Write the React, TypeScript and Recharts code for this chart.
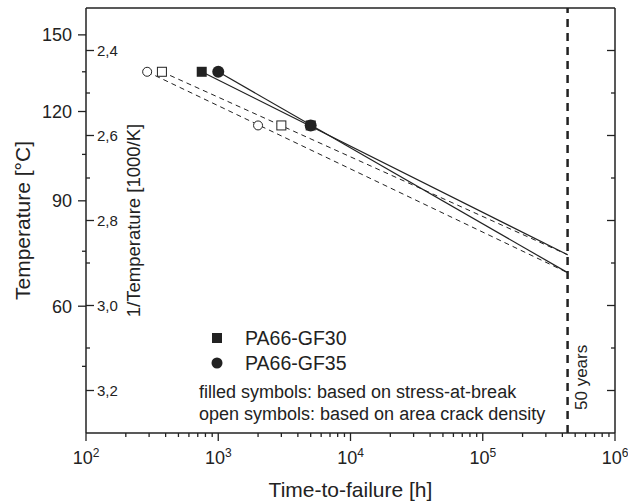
import {
    ComposedChart,
    Line,
    Scatter,
    XAxis,
    YAxis,
    ReferenceLine,
    Legend,
} from "recharts";

const ink = "#222";
const font = "'Liberation Sans', Arial, sans-serif";

// 50 years in hours
const FIFTY_YEARS = 438000;

// test temperatures [°C]
const testTemps = [135, 115];

// time-to-failure [h] at the two test temperatures
const gf30FilledTimes = [750, 5000];
const gf35FilledTimes = [1000, 5000];
const gf30OpenTimes = [375, 3000];
const gf35OpenTimes = [290, 2000];

// extrapolated temperature [°C] at 50 years
const gf30End = 74;
const gf35End = 69;

// axis ticks
const xMajor = [1e2, 1e3, 1e4, 1e5, 1e6];
const xMinor = [1e2, 1e3, 1e4, 1e5].flatMap((d) => [2, 3, 4, 5, 6, 7, 8, 9].map((k) => k * d));
const xTicks = [...xMajor, ...xMinor].sort((a, b) => a - b);
const celsiusTicks = [150, 135, 120, 105, 90, 75, 60, 45];
const invTicks = [2.4, 2.5, 2.6, 2.7, 2.8, 2.9, 3.0, 3.1, 3.2];

const inv = (c: number) => 1000 / (c + 273.15);

const points = (times: number[]) => times.map((t, i) => ({ t, v: inv(testTemps[i]) }));
const fitLine = (times: number[], end: number) => [
    { t: times[0], v: inv(testTemps[0]) },
    { t: FIFTY_YEARS, v: inv(end) },
];

const yDomain = [2.3, 3.3];

function BottomTick(props: any) {
    const { x, y, payload } = props;
    const exp = Math.log10(payload.value);
    const major = Math.abs(exp - Math.round(exp)) < 1e-6;
    return (
        <g>
            <line x1={x} y1={y} x2={x} y2={y + (major ? 8 : 4)} stroke={ink} strokeWidth={1.3} />
            {major && (
                <text x={x} y={y + 31} textAnchor="middle" fontSize={18} fill={ink}>
                    10<tspan dy={-7} fontSize={12}>{Math.round(exp)}</tspan>
                </text>
            )}
        </g>
    );
}

function TopTick(props: any) {
    const { x, y, payload } = props;
    const exp = Math.log10(payload.value);
    const major = Math.abs(exp - Math.round(exp)) < 1e-6;
    return <line x1={x} y1={y} x2={x} y2={y + (major ? 8 : 4)} stroke={ink} strokeWidth={1.3} />;
}

function CelsiusTick(props: any) {
    const { x, y, payload } = props;
    const c = Math.round(1000 / payload.value - 273.15);
    const major = c % 30 === 0;
    return (
        <g>
            <line x1={x - (major ? 8 : 4)} y1={y} x2={x} y2={y} stroke={ink} strokeWidth={1.3} />
            {major && (
                <text x={x - 14} y={y} dy="0.36em" textAnchor="end" fontSize={18} fill={ink}>
                    {c}
                </text>
            )}
        </g>
    );
}

function InvTick(props: any) {
    const { x, y, payload } = props;
    const major = Math.round(payload.value * 10) % 2 === 0;
    return (
        <g>
            <line x1={x} y1={y} x2={x + (major ? 8 : 4)} y2={y} stroke={ink} strokeWidth={1.3} />
            {major && (
                <text x={x + 11} y={y} dy="0.36em" textAnchor="start" fontSize={15} fill={ink}>
                    {payload.value.toFixed(1).replace(".", ",")}
                </text>
            )}
        </g>
    );
}

function RightTick(props: any) {
    const { x, y, payload } = props;
    const major = Math.round(payload.value * 10) % 2 === 0;
    return <line x1={x - (major ? 8 : 4)} y1={y} x2={x} y2={y} stroke={ink} strokeWidth={1.3} />;
}

const filledSquare = (p: any) => <rect x={p.cx - 5} y={p.cy - 5} width={10} height={10} fill={ink} />;
const filledCircle = (p: any) => <circle cx={p.cx} cy={p.cy} r={6} fill={ink} />;
const openSquare = (p: any) => (
    <rect x={p.cx - 4.5} y={p.cy - 4.5} width={9} height={9} fill="#fff" stroke={ink} strokeWidth={1} />
);
const openCircle = (p: any) => <circle cx={p.cx} cy={p.cy} r={4.5} fill="#fff" stroke={ink} strokeWidth={1} />;

function Notes() {
    return (
        <svg width={380} height={110} style={{ fontFamily: font }}>
            <rect x={22} y={13} width={10} height={10} fill={ink} />
            <circle cx={27} cy={43} r={5.5} fill={ink} />
            <text x={55} y={25} fontSize={19.5} fill={ink}>PA66-GF30</text>
            <text x={55} y={50} fontSize={19.5} fill={ink}>PA66-GF35</text>
            <text x={9} y={78} fontSize={18} fill={ink}>filled symbols: based on stress-at-break</text>
            <text x={9} y={100} fontSize={18} fill={ink}>open symbols: based on area crack density</text>
        </svg>
    );
}

function fiftyLabel(props: any) {
    const { x, y, height } = props.viewBox;
    const tx = x + 19;
    const ty = y + height - 23;
    return (
        <text x={tx} y={ty} transform={`rotate(-90 ${tx} ${ty})`} fontSize={17} fill={ink}>
            50 years
        </text>
    );
}

export default function App() {
    return (
        <div style={{ position: "absolute", left: 0, top: 0, width: 628, height: 504, fontFamily: font, background: "#fff" }}>
            <ComposedChart width={628} height={504} margin={{ top: 7, right: 12, bottom: 70, left: 85 }}>
                <XAxis
                    xAxisId="x"
                    dataKey="t"
                    type="number"
                    scale="log"
                    domain={[100, 1e6]}
                    allowDataOverflow
                    ticks={xTicks}
                    interval={0}
                    height={1}
                    tickSize={0}
                    tickMargin={0}
                    tickLine={false}
                    axisLine={{ stroke: ink, strokeWidth: 1.5 }}
                    tick={<BottomTick />}
                    label={{ value: "Time-to-failure [h]", position: "bottom", offset: 48, style: { fontSize: 21, fill: ink } }}
                />
                <XAxis
                    xAxisId="top"
                    orientation="top"
                    type="number"
                    scale="log"
                    domain={[100, 1e6]}
                    allowDataOverflow
                    ticks={xTicks}
                    interval={0}
                    height={1}
                    tickSize={0}
                    tickMargin={0}
                    tickLine={false}
                    axisLine={{ stroke: ink, strokeWidth: 1.5 }}
                    tick={<TopTick />}
                />
                <YAxis
                    yAxisId="c"
                    type="number"
                    domain={yDomain}
                    reversed
                    allowDataOverflow
                    ticks={celsiusTicks.map(inv)}
                    interval={0}
                    width={1}
                    tickSize={0}
                    tickMargin={0}
                    tickLine={false}
                    axisLine={{ stroke: ink, strokeWidth: 1.5 }}
                    tick={<CelsiusTick />}
                    label={{
                        value: "Temperature [°C]",
                        angle: -90,
                        position: "left",
                        offset: 62,
                        style: { textAnchor: "middle", fontSize: 21, fill: ink },
                    }}
                />
                <YAxis
                    yAxisId="inv"
                    dataKey="v"
                    type="number"
                    domain={yDomain}
                    reversed
                    mirror
                    allowDataOverflow
                    ticks={invTicks}
                    interval={0}
                    width={1}
                    tickSize={0}
                    tickMargin={0}
                    tickLine={false}
                    axisLine={false}
                    tick={<InvTick />}
                    label={{
                        value: "1/Temperature [1000/K]",
                        angle: -90,
                        position: "insideLeft",
                        offset: 47,
                        style: { textAnchor: "middle", fontSize: 18.5, fill: ink },
                    }}
                />
                <YAxis
                    yAxisId="r"
                    orientation="right"
                    type="number"
                    domain={yDomain}
                    reversed
                    allowDataOverflow
                    ticks={invTicks}
                    interval={0}
                    width={1}
                    tickSize={0}
                    tickMargin={0}
                    tickLine={false}
                    axisLine={{ stroke: ink, strokeWidth: 1.5 }}
                    tick={<RightTick />}
                />

                <Line xAxisId="x" yAxisId="inv" data={fitLine(gf30OpenTimes, gf30End)} dataKey="v" stroke={ink} strokeWidth={1} strokeDasharray="5 4" dot={false} activeDot={false} isAnimationActive={false} />
                <Line xAxisId="x" yAxisId="inv" data={fitLine(gf35OpenTimes, gf35End)} dataKey="v" stroke={ink} strokeWidth={1} strokeDasharray="5 4" dot={false} activeDot={false} isAnimationActive={false} />
                <Line xAxisId="x" yAxisId="inv" data={fitLine(gf30FilledTimes, gf30End)} dataKey="v" stroke={ink} strokeWidth={1.2} dot={false} activeDot={false} isAnimationActive={false} />
                <Line xAxisId="x" yAxisId="inv" data={fitLine(gf35FilledTimes, gf35End)} dataKey="v" stroke={ink} strokeWidth={1.2} dot={false} activeDot={false} isAnimationActive={false} />

                <ReferenceLine xAxisId="x" yAxisId="inv" x={FIFTY_YEARS} stroke={ink} strokeWidth={2.5} strokeDasharray="8 6" label={fiftyLabel} />

                <Scatter xAxisId="x" yAxisId="inv" data={points(gf30OpenTimes)} dataKey="v" shape={openSquare} isAnimationActive={false} />
                <Scatter xAxisId="x" yAxisId="inv" data={points(gf35OpenTimes)} dataKey="v" shape={openCircle} isAnimationActive={false} />
                <Scatter xAxisId="x" yAxisId="inv" data={points(gf30FilledTimes)} dataKey="v" shape={filledSquare} isAnimationActive={false} />
                <Scatter xAxisId="x" yAxisId="inv" data={points(gf35FilledTimes)} dataKey="v" shape={filledCircle} isAnimationActive={false} />

                <Legend
                    layout="vertical"
                    align="center"
                    verticalAlign="middle"
                    content={() => <Notes />}
                    wrapperStyle={{ left: 190, top: 320, width: 380, height: 110 }}
                />
            </ComposedChart>
        </div>
    );
}
